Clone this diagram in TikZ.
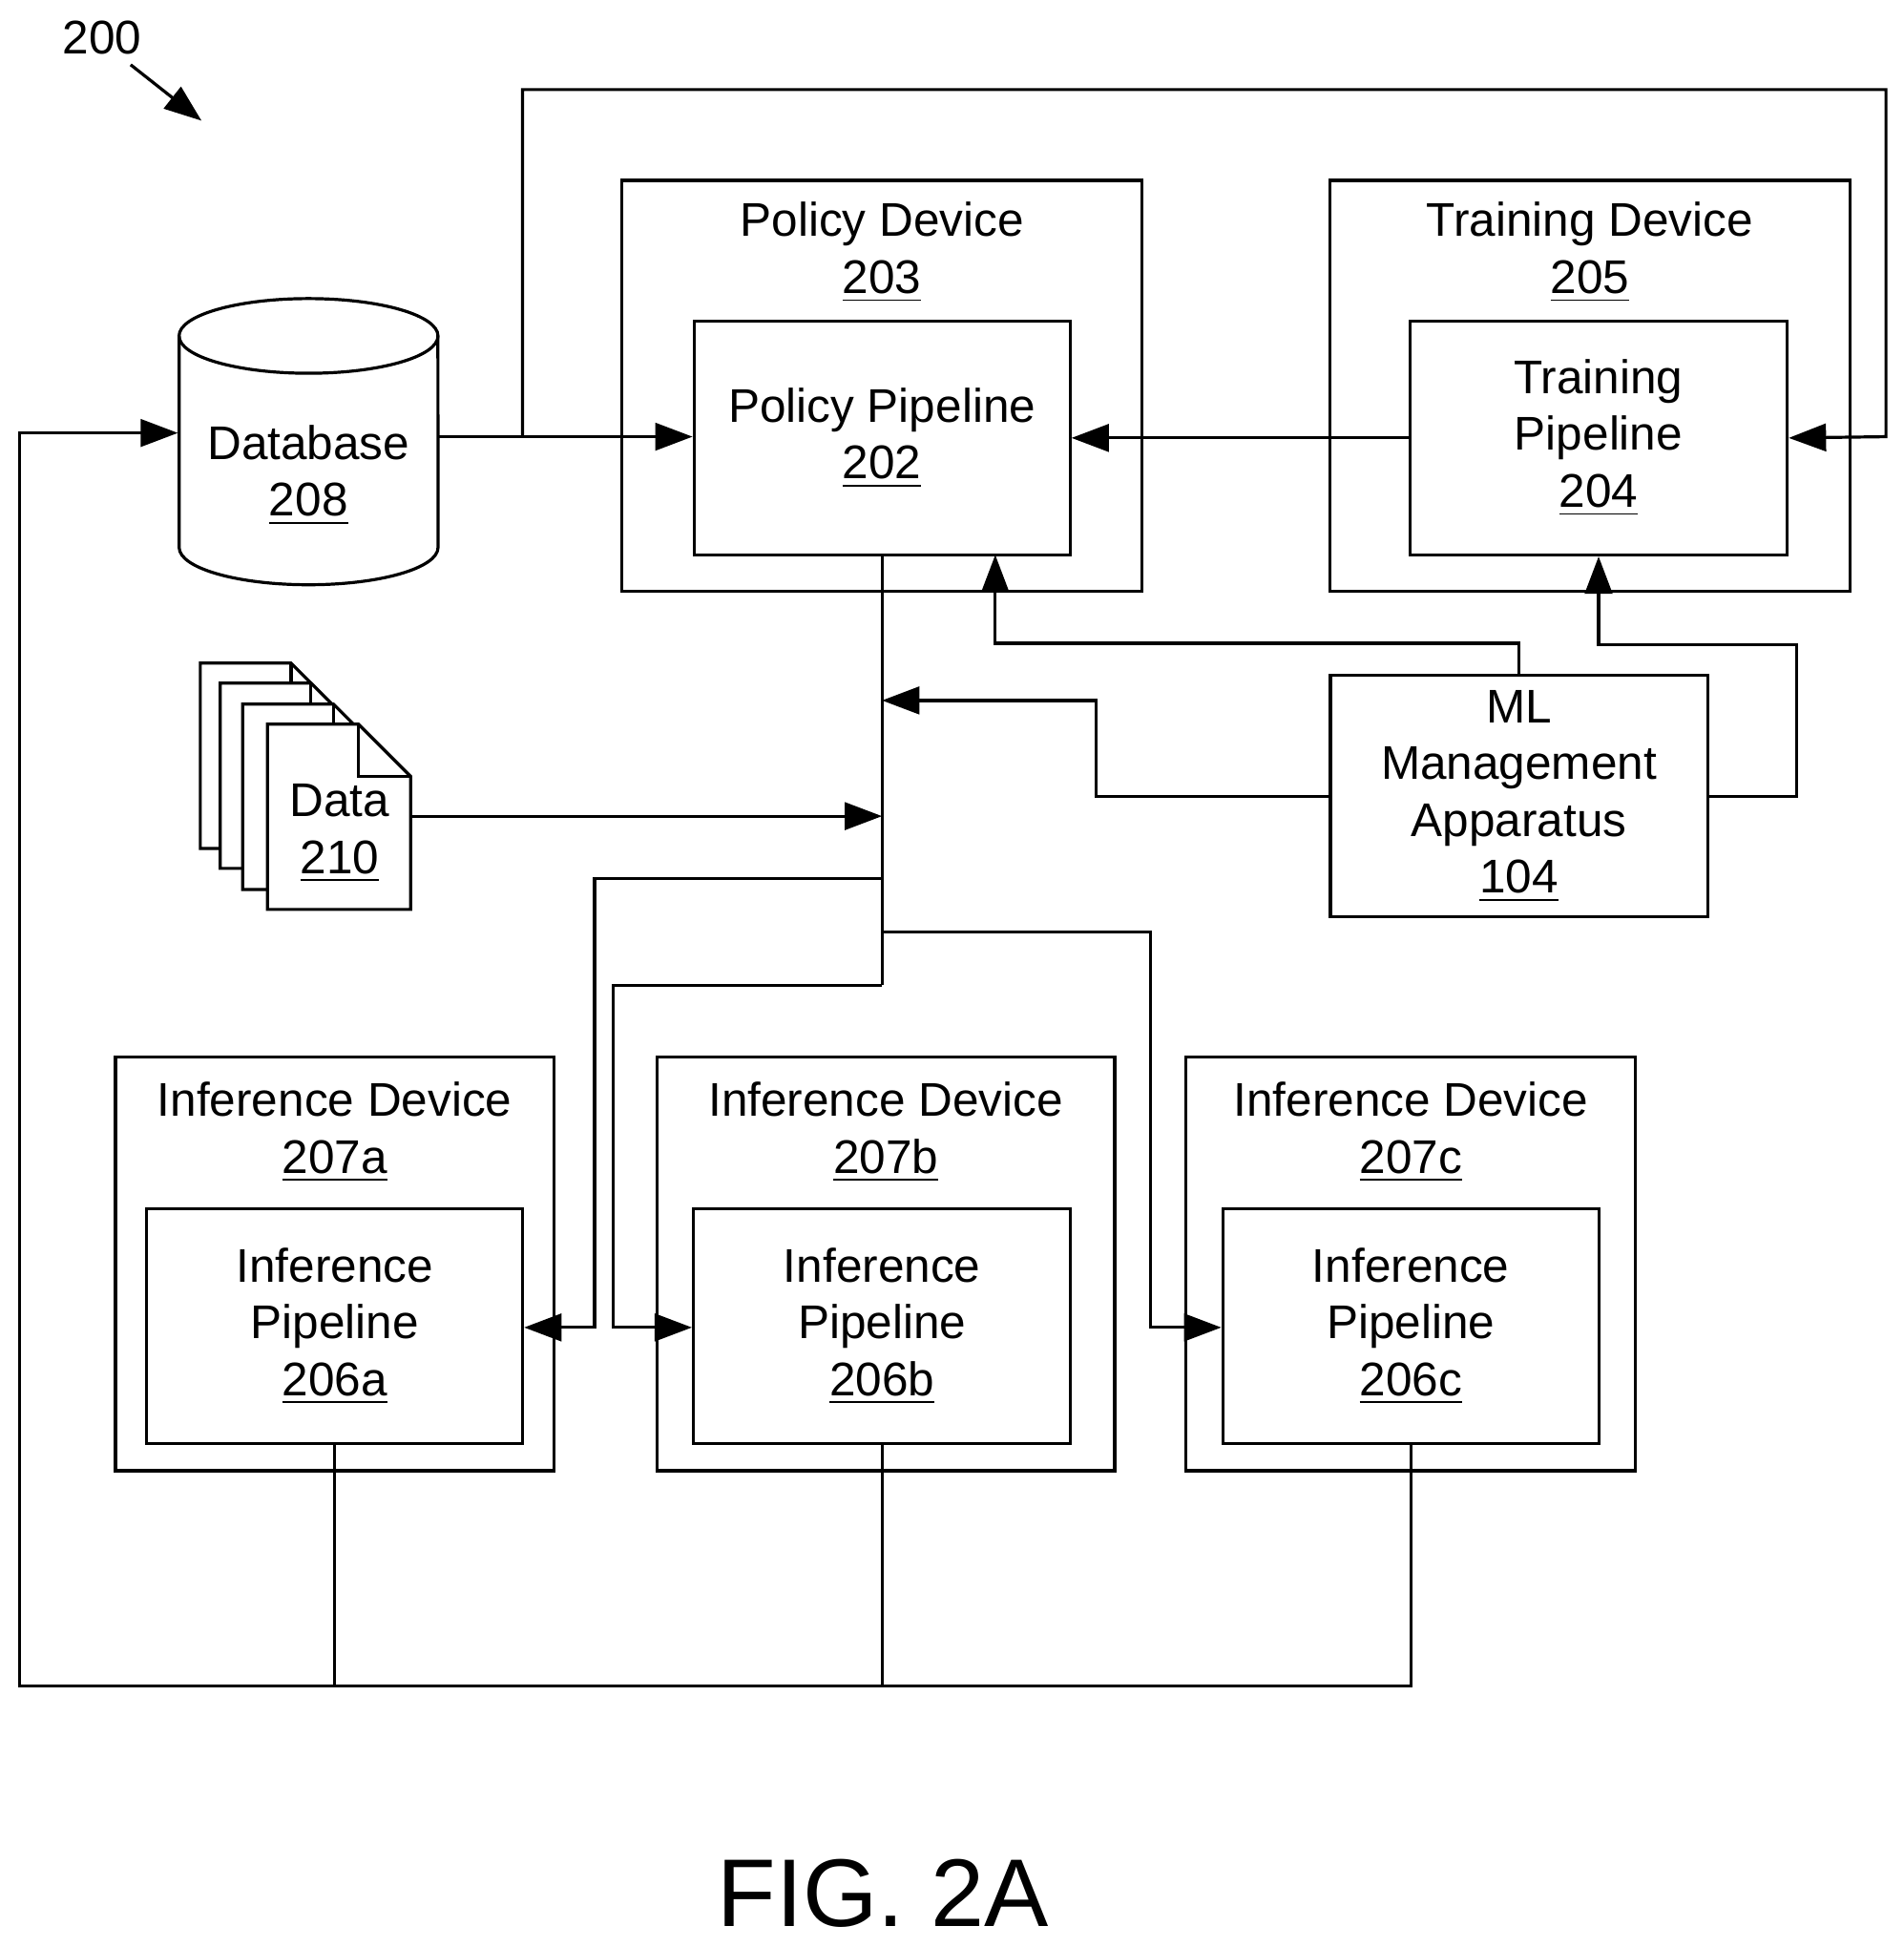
\documentclass[tikz,border=0pt]{standalone}
\usepackage{fontspec}
\setmainfont{Liberation Sans}
\usetikzlibrary{arrows.meta,positioning,calc}

\begin{document}
\begin{tikzpicture}[
  x=0.01cm, y=-0.01cm,
  line width=0.7pt,
  every node/.style={font=\fontsize{10.8}{13}\selectfont, align=center},
  lbl/.style={inner sep=0pt},
  arr/.style={-{Triangle[length=0.3cm,width=0.22cm]}},
  page/.style={draw, fill=white, line join=miter},
]
  \useasboundingbox (0,0) rectangle (1530,1565);

  % reference number
  \node[lbl] (ref) at (82,30) {200};
  \coordinate (refs) at (105,52);
  \coordinate (refe) at (162,97);
  \draw[arr] (refs) -- (refe);

  % database
  \draw (144,270) -- (144,440) arc[start angle=180,end angle=360,x radius=1.04cm,y radius=0.3cm] -- (352,270);
  \draw (248,270) ellipse[x radius=1.04cm,y radius=0.3cm];
  \node[lbl] (db) at (248,382) {Database\\\underline{208}};
  \coordinate (dbE) at (352,351);
  \coordinate (dbW) at (143,348);

  % policy device
  \node[draw, minimum width=4.18cm, minimum height=3.3cm] (poldev) at (709,310) {};
  \node[lbl] (poldevl) at (709,203) {Policy Device\\\underline{203}};
  \node[draw, minimum width=3.02cm, minimum height=1.88cm] (polpipe) at (709,352) {Policy Pipeline\\\underline{202}};

  % training device
  \node[draw, minimum width=4.18cm, minimum height=3.3cm] (trdev) at (1278,310) {};
  \node[lbl] (trdevl) at (1278,203) {Training Device\\\underline{205}};
  \node[draw, minimum width=3.03cm, minimum height=1.88cm] (trpipe) at (1285,352) {Training\\Pipeline\\\underline{204}};

  % ml management
  \node[draw, minimum width=3.03cm, minimum height=1.88cm] (ml) at (1221,640) {ML\\Management\\Apparatus\\\underline{104}};

  % data pages
  \foreach \dx/\dy in {-54/-49, -38/-33, -20/-16, 0/0} {
    \draw[page] (215+\dx,582+\dy) -- (288+\dx,582+\dy) -- (330+\dx,624+\dy) -- (330+\dx,731+\dy) -- (215+\dx,731+\dy) -- cycle;
    \draw (288+\dx,582+\dy) -- (288+\dx,624+\dy) -- (330+\dx,624+\dy);
  }
  \node[lbl] (data) at (273,670) {Data\\\underline{210}};
  \coordinate (dataE) at (330,656);

  % inference devices
  \node[draw, minimum width=3.52cm, minimum height=3.32cm] (infdeva) at (269,1016) {};
  \node[lbl] (infdeval) at (269,910) {Inference Device\\\underline{207a}};
  \node[draw, minimum width=3.02cm, minimum height=1.89cm] (infpipea) at (269,1066) {Inference\\Pipeline\\\underline{206a}};

  \node[draw, minimum width=3.68cm, minimum height=3.32cm] (infdevb) at (712,1016) {};
  \node[lbl] (infdevbl) at (712,910) {Inference Device\\\underline{207b}};
  \node[draw, minimum width=3.03cm, minimum height=1.89cm] (infpipeb) at (709,1066) {Inference\\Pipeline\\\underline{206b}};

  \node[draw, minimum width=3.61cm, minimum height=3.32cm] (infdevc) at (1134,1016) {};
  \node[lbl] (infdevcl) at (1134,910) {Inference Device\\\underline{207c}};
  \node[draw, minimum width=3.02cm, minimum height=1.89cm] (infpipec) at (1134,1066) {Inference\\Pipeline\\\underline{206c}};

  % trunk from policy pipeline
  \coordinate (trunk) at (709,792);
  \draw (polpipe.south) -- (trunk);

  % connectors
  \draw[arr] (dbE) -- (dbE -| polpipe.west);
  \draw[arr] (420,351) -- (420,72) -- (1516,72) -- (1516,351) -- (trpipe.east);
  \draw[arr] (trpipe.west) -- (polpipe.east |- trpipe.west);
  \draw[arr] (dataE) -- (709,656);
  \draw[arr] (ml.west) -- (881,640) -- (881,563) -- (709,563);
  \draw[arr] (ml.north) -- (1221,517) -- (800,517) -- (800,446);
  \draw[arr] (ml.east) -- (1444,640) -- (1444,518) -- (1285,518) -- (trpipe.south);
  \draw[arr] (709,706) -- (478,706) -- (478,1067) -- (infpipea.east |- 0,1067);
  \draw[arr] (trunk) -- (493,792) -- (493,1067) -- (infpipeb.west |- 0,1067);
  \draw[arr] (709,749) -- (925,749) -- (925,1067) -- (infpipec.west |- 0,1067);

  % return to database
  \draw (infpipea.south) -- (269,1355);
  \draw (infpipeb.south) -- (709,1355);
  \draw[arr] (infpipec.south) -- (1134,1355) -- (16,1355) -- (16,348) -- (dbW);

  % caption
  \node[lbl, font=\fontsize{22}{26}\selectfont] (fig) at (710,1522) {FIG. 2A};
\end{tikzpicture}
\end{document}
